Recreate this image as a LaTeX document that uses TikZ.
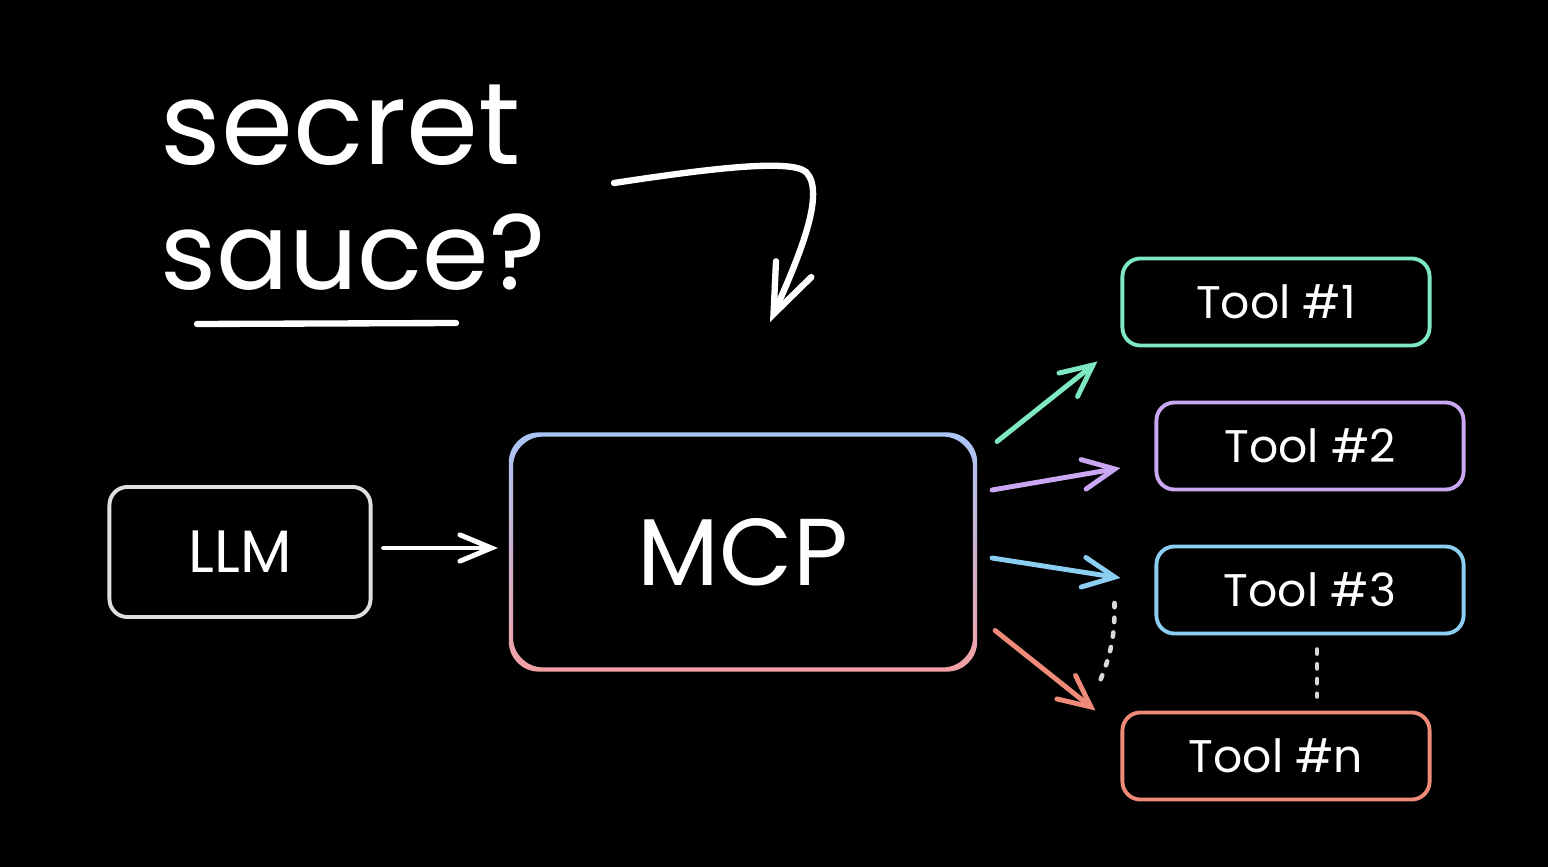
\documentclass[tikz,border=0pt]{standalone}
\usepackage{fontspec}
\setmainfont{Poppins}
\usetikzlibrary{arrows.meta}

\definecolor{toolmint}{RGB}{126,232,193}
\definecolor{toollilac}{RGB}{201,167,242}
\definecolor{toolsky}{RGB}{140,205,242}
\definecolor{toolsalmon}{RGB}{240,138,120}
\definecolor{mcptop}{RGB}{169,197,247}
\definecolor{mcpmid}{RGB}{200,169,240}
\definecolor{mcpbot}{RGB}{242,160,164}

\begin{document}
\begin{tikzpicture}[
        x=0.01cm, y=-0.01cm,
        box/.style={rectangle, draw, line width=1.1pt, rounded corners=0.18cm, fill=black, text=white, font=\fontsize{13}{15}\selectfont},
        tool/.style={box, minimum width=3.07cm, minimum height=0.87cm},
        line/.style={draw, line width=1.4pt, line cap=round, -{Straight Barb[length=9pt, width=8.5pt, line cap=round]}},
        dots/.style={draw=white!85!black, line width=1.3pt, dash pattern=on 1.2pt off 3pt, line cap=round},
        scrawl/.style={text=white, font=\fontsize{33}{40}\selectfont, inner sep=0pt, anchor=west}
    ]

    \fill[black] (0,0) rectangle (1548,867);
    \useasboundingbox (0,0) rectangle (1548,867);

    % Nodes
    \node [box, draw=white!88!black, minimum width=2.61cm, minimum height=1.30cm, font=\fontsize{17}{20}\selectfont] (llm) at (240,552) {LLM};
    \node [box, draw=none, minimum width=4.60cm, minimum height=2.31cm, rounded corners=0.3cm, font=\fontsize{27}{32}\selectfont] (mcp) at (743,552) {MCP};
    \node [tool, draw=toolmint] (tool1) at (1276,302) {Tool \#1};
    \node [tool, draw=toollilac] (tool2) at (1310,446) {Tool \#2};
    \node [tool, draw=toolsky] (tool3) at (1310,590) {Tool \#3};
    \node [tool, draw=toolsalmon] (tooln) at (1276,756) {Tool \#n};

    \node [scrawl] (secret) at (160,125) {secret};
    \node [scrawl, font=\fontsize{30.5}{38}\selectfont] (sauce) at (160,252) {sauce?};
    \coordinate (hint) at (614,183);
    \coordinate (hinttip) at (770,322);

    % MCP border, shaded from blue to pink
    \shade [even odd rule, top color=mcptop, middle color=mcpmid, bottom color=mcpbot, rounded corners=0.3cm]
        ([shift={(-0.6pt,0.6pt)}]mcp.north west) rectangle ([shift={(0.6pt,-0.6pt)}]mcp.south east)
        ([shift={(0.6pt,-0.6pt)}]mcp.north west) rectangle ([shift={(-0.6pt,0.6pt)}]mcp.south east);

    % Edges
    \path [line, white, -{Straight Barb[length=9pt, width=7.5pt, line cap=round]}] ([shift={(11,-4)}]llm.east) -- ([shift={(-13,-4)}]mcp.west);
    \path [line, toolmint] ([shift={(22,7)}]mcp.north east) -- ([shift={(-23,14)}]tool1.south west);
    \path [line, toollilac] ([shift={(17,-62)}]mcp.east) -- ([shift={(-34,22)}]tool2.west);
    \path [line, toolsky] ([shift={(17,6)}]mcp.east) -- ([shift={(-34,-12)}]tool3.west);
    \path [line, toolsalmon] ([shift={(20,-39)}]mcp.south east) -- ([shift={(-25,0)}]tooln.north west);
    \path [dots] ([shift={(-40,13)}]tool3.west) to[bend left=12] ([shift={(-22,-26)}]tooln.north west);
    \path [dots, shorten <=0.14cm, shorten >=0.14cm] ([xshift=2]tool3.south) -- ([xshift=2]tool3.south |- tooln.north);

    % Hint arrow and underline
    \draw [white, line width=1.8pt, line cap=round, -{Straight Barb[length=14pt, width=11pt, line cap=round]}]
        (hint) .. controls (700,170) and (790,158) .. (806,172)
        .. controls (826,192) and (800,255) .. (hinttip);
    \draw [white, line width=1.8pt, line cap=round] ([shift={(37,72)}]sauce.west) -- ([shift={(296,71)}]sauce.west);

\end{tikzpicture}
\end{document}
